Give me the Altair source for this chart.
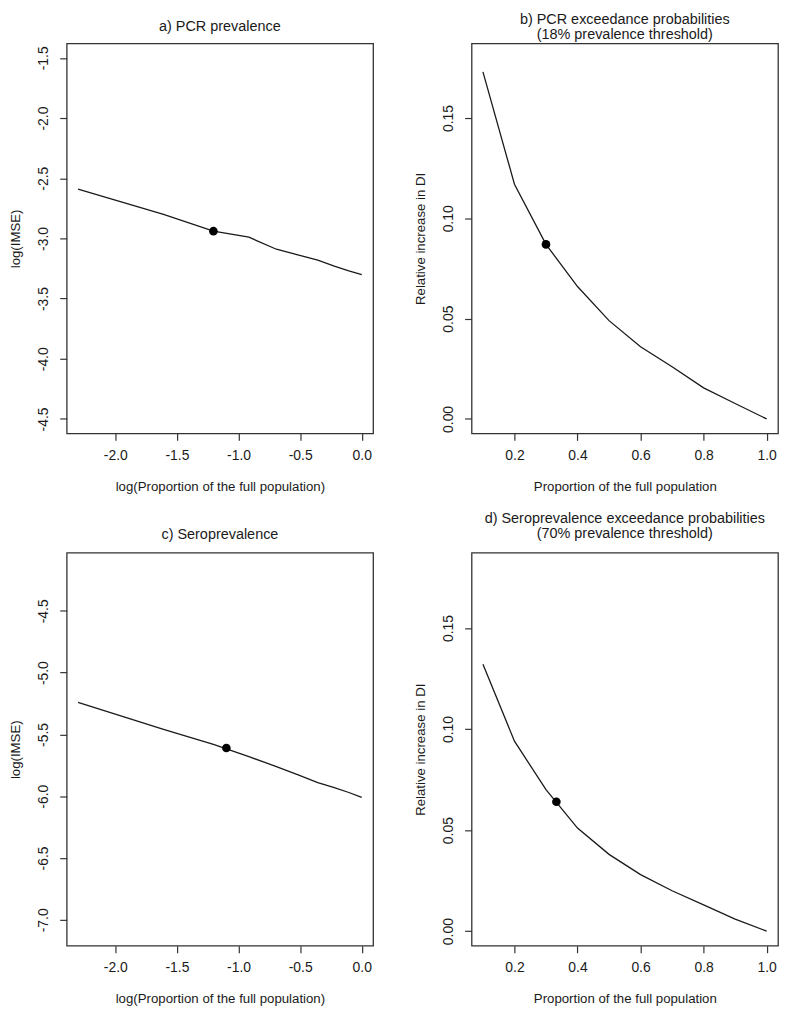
import altair as alt
import pandas as pd

# ---- data ----
prop = [0.1, 0.2, 0.3, 0.4, 0.5, 0.6, 0.7, 0.8, 0.9, 1.0]
log_prop = [-2.303, -1.609, -1.204, -0.916, -0.693, -0.511, -0.357, -0.223, -0.105, 0.0]

pcr_imse = [-2.59, -2.80, -2.94, -2.99, -3.09, -3.14, -3.18, -3.23, -3.27, -3.30]
pcr_di = [0.173, 0.117, 0.087, 0.066, 0.049, 0.036, 0.026, 0.0155, 0.0077, 0.0]
sero_imse = [-5.24, -5.46, -5.58, -5.68, -5.76, -5.83, -5.89, -5.93, -5.97, -6.01]
sero_di = [0.132, 0.094, 0.070, 0.051, 0.038, 0.028, 0.020, 0.013, 0.006, 0.0]

pcr_imse_pt = (-1.204, -2.94)
pcr_di_pt = (0.30, 0.087)
sero_imse_pt = (-1.099, -5.61)
sero_di_pt = (0.333, 0.064)

log_ticks = [-2.0, -1.5, -1.0, -0.5, 0.0]
prop_ticks = [0.2, 0.4, 0.6, 0.8, 1.0]
pcr_imse_ticks = [-1.5, -2.0, -2.5, -3.0, -3.5, -4.0, -4.5]
sero_imse_ticks = [-4.5, -5.0, -5.5, -6.0, -6.5, -7.0]
di_ticks = [0.0, 0.05, 0.10, 0.15]

FONT = "Liberation Sans"
INK = "#1a1a1a"


def panel(xs, ys, pt, xdom, ydom, xticks, yticks, xfmt, yfmt,
          xtitle, ytitle, title, toff, h):
    df = pd.DataFrame({"x": xs, "y": ys})
    dp = pd.DataFrame({"x": [pt[0]], "y": [pt[1]]})
    xlab = "replace(format(datum.value, '%s'), '\u2212', '-')" % xfmt
    ylab = "replace(format(datum.value, '%s'), '\u2212', '-')" % yfmt
    xenc = alt.X("x:Q", scale=alt.Scale(domain=xdom, nice=False, zero=False),
                 axis=alt.Axis(values=xticks, labelExpr=xlab, title=xtitle,
                               titlePadding=17, labelPadding=8))
    yenc = alt.Y("y:Q", scale=alt.Scale(domain=ydom, nice=False, zero=False),
                 axis=alt.Axis(values=yticks, labelExpr=ylab, title=ytitle,
                               labelAngle=270, labelAlign="center",
                               labelBaseline="bottom", labelPadding=9,
                               titlePadding=14))
    line = alt.Chart(df).mark_line(color=INK, strokeWidth=1.3).encode(x=xenc, y=yenc)
    dot = alt.Chart(dp).mark_circle(color="black", opacity=1, size=75).encode(
        x="x:Q", y="y:Q")
    return alt.layer(line, dot).properties(
        width=308, height=h,
        title=alt.TitleParams(text=title, fontSize=14.5, fontWeight="normal",
                              font=FONT, color=INK, anchor="middle",
                              offset=toff, lineHeight=15),
    )


xlog_dom = [-2.395, 0.092]
xprop_dom = [0.064, 1.036]
di_dom = [-0.0072, 0.1872]

a = panel(log_prop, pcr_imse, pcr_imse_pt, xlog_dom, [-4.62, -1.38],
          log_ticks, pcr_imse_ticks, ".1f", ".1f",
          "log(Proportion of the full population)", "log(IMSE)",
          "a) PCR prevalence", 9, 392)
b = panel(prop, pcr_di, pcr_di_pt, xprop_dom, di_dom,
          prop_ticks, di_ticks, ".1f", ".2f",
          "Proportion of the full population", "Relative increase in DI",
          ["b) PCR exceedance probabilities", "(18% prevalence threshold)"], 1, 392)
c = panel(log_prop, sero_imse, sero_imse_pt, xlog_dom, [-7.21, -4.03],
          log_ticks, sero_imse_ticks, ".1f", ".1f",
          "log(Proportion of the full population)", "log(IMSE)",
          "c) Seroprevalence", 10, 395)
d = panel(prop, sero_di, sero_di_pt, xprop_dom, di_dom,
          prop_ticks, di_ticks, ".1f", ".2f",
          "Proportion of the full population", "Relative increase in DI",
          ["d) Seroprevalence exceedance probabilities", "(70% prevalence threshold)"], 11, 395)

chart = alt.concat(a, b, c, d, columns=2, bounds="flush",
                   spacing={"row": 120, "column": 99}).properties(
    padding=0, background="white"
).configure_view(
    stroke="#333333", strokeWidth=1.3, fill="white"
).configure_axis(
    grid=False, domain=False, ticks=True, tickSize=7, tickColor="#333333",
    tickWidth=1.2, labelFont=FONT, labelFontSize=14, labelColor=INK,
    titleFont=FONT, titleFontSize=13.3, titleFontWeight="normal", titleColor=INK,
)

chart.save("out.html", embed_options={"renderer": "svg", "actions": False})
